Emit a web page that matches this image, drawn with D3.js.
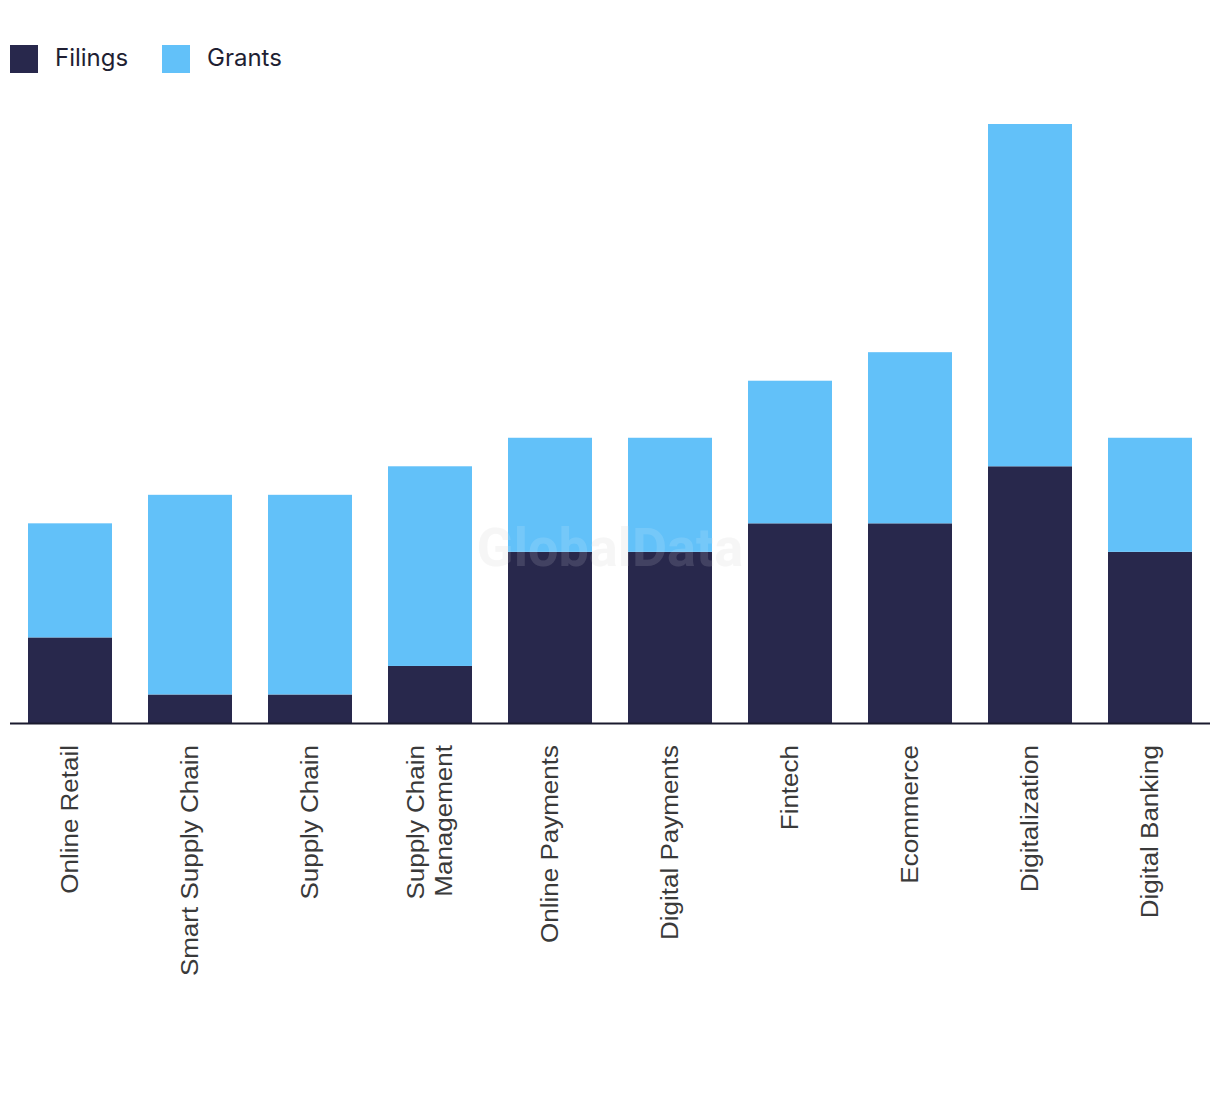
<!DOCTYPE html>
<html><head><meta charset="utf-8">
<script src="https://cdn.jsdelivr.net/npm/d3@7"></script>
<style>body{margin:0;background:#fff;}svg{display:block;}</style>
</head><body>
<script>
const categories = ["Online Retail","Smart Supply Chain","Supply Chain","Supply Chain Management","Online Payments","Digital Payments","Fintech","Ecommerce","Digitalization","Digital Banking"];
const filings = [3,1,1,2,6,6,7,7,9,6];
const grants = [4,7,7,7,4,4,5,6,12,4];
const seriesNames = ["Filings","Grants"];
const colors = ["#28284c","#62c1f9"];

const W = 1220, H = 1094;
const svg = d3.select("body").append("svg").attr("width",W).attr("height",H);

const data = categories.map((c,i)=>({cat:c, Filings:filings[i], Grants:grants[i]}));
const stack = d3.stack().keys(seriesNames)(data);

const x = d3.scaleBand().domain(categories).range([10,1210]).paddingInner(0.3).paddingOuter(0.15);
const y = d3.scaleLinear().domain([0,21]).range([723,124]);

const wmFont = "Roboto, Arial, sans-serif";
svg.append("text").attr("x",610).attr("y",566).attr("text-anchor","middle")
  .attr("font-family",wmFont).attr("font-weight","bold").attr("font-size",54)
  .attr("fill","#e8e8e8").attr("opacity",0.4).text("GlobalData");

svg.append("g").selectAll("g").data(stack).join("g").attr("fill",(d,i)=>colors[i])
  .selectAll("rect").data(d=>d).join("rect")
  .attr("x",d=>x(d.data.cat)).attr("width",x.bandwidth())
  .attr("y",d=>y(d[1])).attr("height",d=>y(d[0])-y(d[1]));

svg.append("text").attr("x",610).attr("y",566).attr("text-anchor","middle")
  .attr("font-family",wmFont).attr("font-weight","bold").attr("font-size",54)
  .attr("fill","#ffffff").attr("opacity",0.12).text("GlobalData");

svg.append("line").attr("x1",10).attr("x2",1210).attr("y1",723.5).attr("y2",723.5)
  .attr("stroke","#1a1a2e").attr("stroke-width",2);

const wrapMap = {"Supply Chain Management":["Supply Chain","Management"]};
categories.forEach(c=>{
  const lines = wrapMap[c] || [c];
  const cx = x(c)+x.bandwidth()/2;
  lines.forEach((ln,j)=>{
    const off = (j-(lines.length-1)/2)*28;
    svg.append("text")
      .attr("transform",`translate(${cx+off+8},745) rotate(-90) scale(1,0.92)`)
      .attr("text-anchor","end")
      .attr("font-family","'Liberation Sans', Arial, sans-serif")
      .attr("font-size",26).attr("fill","#3a3a3a")
      .text(ln);
  });
});

const leg = svg.append("g");
const legX = [10,162];
seriesNames.forEach((s,i)=>{
  leg.append("rect").attr("x",legX[i]).attr("y",45).attr("width",28).attr("height",28).attr("fill",colors[i]);
  leg.append("text").attr("x",legX[i]+45).attr("y",66)
    .attr("font-family","Inter, 'Noto Sans', sans-serif").attr("font-size",24).attr("fill","#1f1f33")
    .text(s);
});
</script>
</body></html>
